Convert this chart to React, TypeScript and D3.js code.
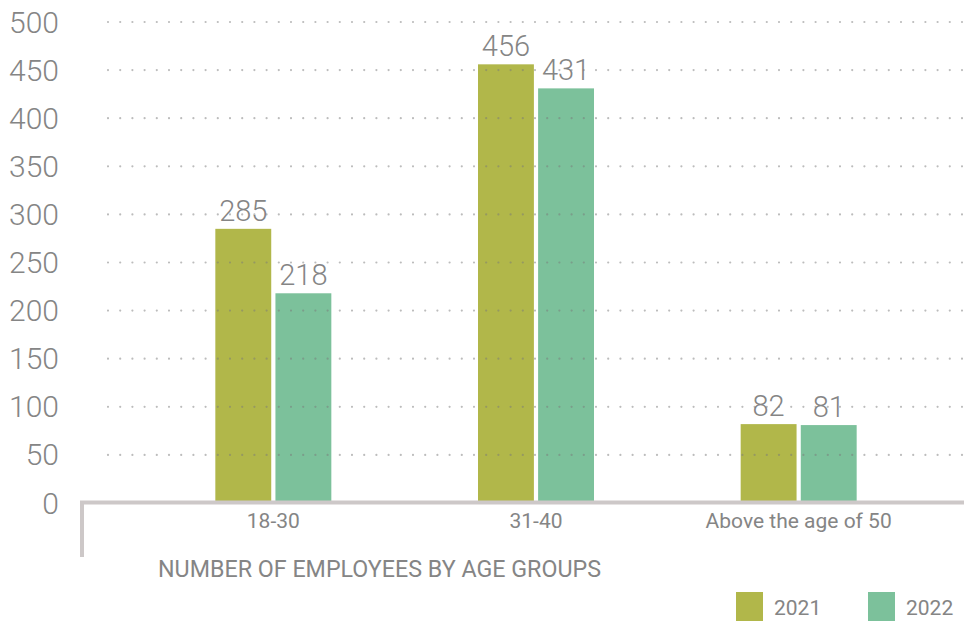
import * as d3 from 'd3';

const categories = ['18-30', '31-40', 'Above the age of 50'];
const seriesNames = ['2021', '2022'];
const values2021 = [285, 456, 82];
const values2022 = [218, 431, 81];
const yTicks = [0, 50, 100, 150, 200, 250, 300, 350, 400, 450, 500];
const axisTitle = 'NUMBER OF EMPLOYEES BY AGE GROUPS';

const colors = ['#b1b74a', '#7cc19b'];
const textColor = '#858585';
const font = "Roboto, 'Open Sans', sans-serif";

export default function App() {
  const width = 964;
  const height = 621;

  const y = d3.scaleLinear().domain([0, 500]).range([503, 22]);
  const x = d3.scaleBand<string>().domain(categories).range([142, 930]);
  const inner = d3.scaleBand<string>().domain(seriesNames).range([0, 116]).paddingInner(0.07);

  const series = [values2021, values2022];

  return (
    <svg
      width={width}
      height={height}
      style={{ position: 'absolute', left: 0, top: 0, background: '#fff' }}
      fontFamily={font}
    >
      {/* bars */}
      {series.map((vals, si) =>
        vals.map((v, ci) => {
          const cx = (x(categories[ci]) ?? 0) + x.bandwidth() / 2 - 58;
          const bx = cx + (inner(seriesNames[si]) ?? 0);
          return (
            <g key={`${si}-${ci}`}>
              <rect x={bx} y={y(v)} width={inner.bandwidth()} height={501 - y(v)} fill={colors[si]} />
              <text
                x={bx + inner.bandwidth() / 2}
                y={y(v) - 8}
                textAnchor='middle'
                fontSize={29}
                fontWeight={300}
                fill={textColor}
              >
                {v}
              </text>
            </g>
          );
        })
      )}

      {/* dotted gridlines, over the bars */}
      {yTicks
        .filter((t) => t > 0)
        .map((t) => (
          <line
            key={t}
            x1={108}
            x2={962}
            y1={y(t)}
            y2={y(t)}
            stroke='#7a7a7a'
            strokeOpacity={0.5}
            strokeWidth={2.2}
            strokeLinecap='round'
            strokeDasharray='0 12.2'
          />
        ))}

      {/* y tick labels */}
      {yTicks.map((t) => (
        <text
          key={t}
          x={59}
          y={y(t)}
          dy='0.35em'
          textAnchor='end'
          fontSize={30}
          fontWeight={300}
          fill={textColor}
        >
          {t}
        </text>
      ))}

      {/* axis frame */}
      <line x1={80} x2={964} y1={502.5} y2={502.5} stroke='#cdc8c8' strokeWidth={4} />
      <line x1={82} x2={82} y1={501} y2={557} stroke='#cdc8c8' strokeWidth={4} />

      {/* category labels */}
      {categories.map((c) => (
        <text
          key={c}
          x={(x(c) ?? 0) + x.bandwidth() / 2}
          y={528}
          textAnchor='middle'
          fontSize={21}
          fill={textColor}
        >
          {c}
        </text>
      ))}

      <text x={158} y={577} fontSize={23.5} fill={textColor} textLength={443} lengthAdjust='spacingAndGlyphs'>
        {axisTitle}
      </text>

      {/* legend */}
      {seriesNames.map((s, i) => (
        <g key={s} transform={`translate(${736 + i * 132},592)`}>
          <rect width={27} height={29} fill={colors[i]} />
          <text x={38} y={23} fontSize={21} fill={textColor}>
            {s}
          </text>
        </g>
      ))}
    </svg>
  );
}
